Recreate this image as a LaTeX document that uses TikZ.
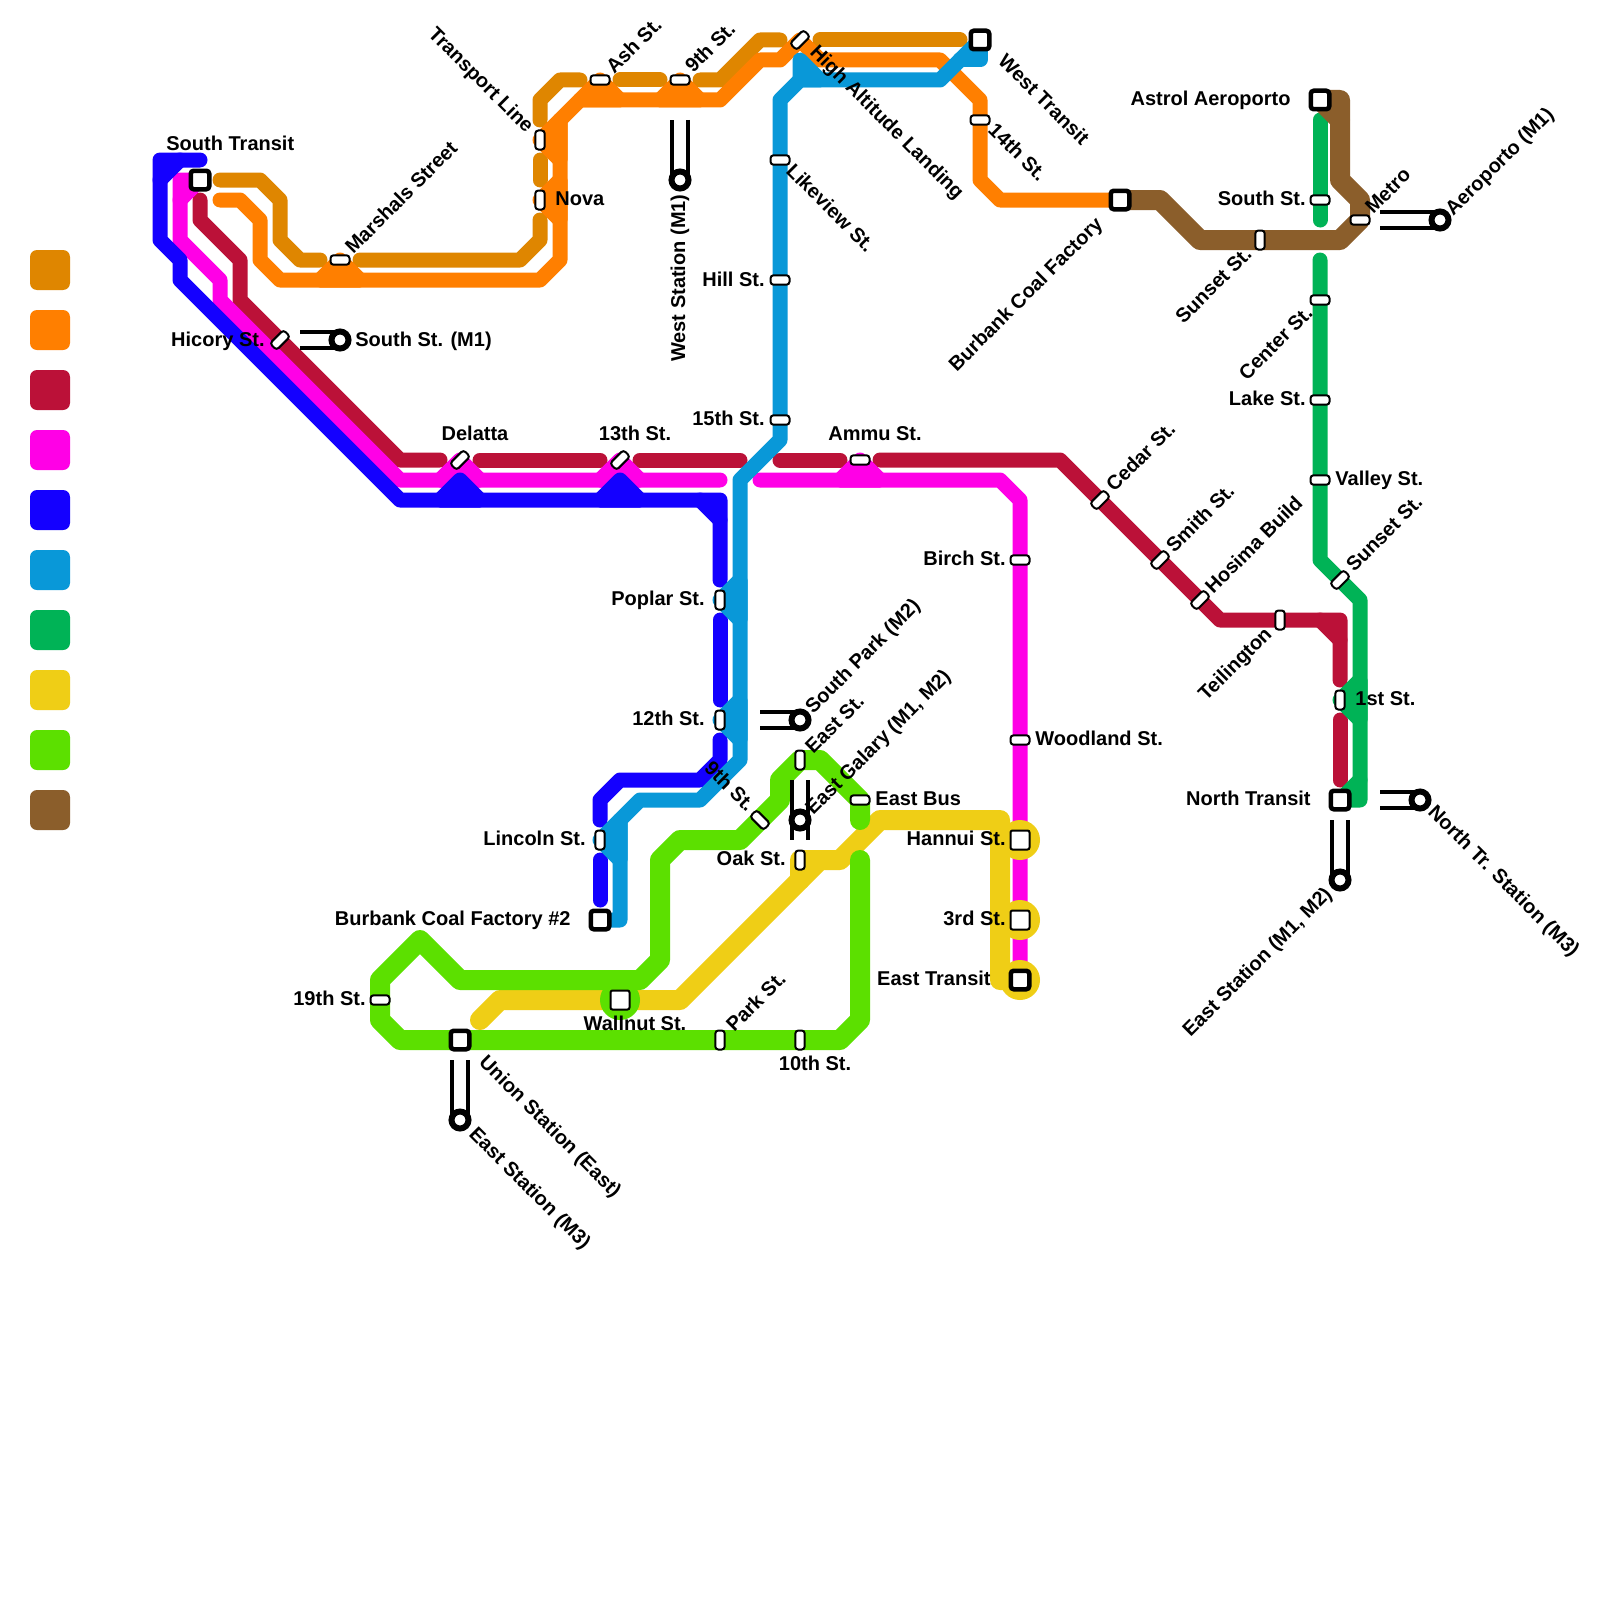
\documentclass[tikz,border=0pt]{standalone}
\usepackage{fontspec}
\setmainfont{Liberation Sans}
\usetikzlibrary{backgrounds}

\definecolor{ochre}{HTML}{DF8600}
\definecolor{tangerine}{HTML}{FF7F00}
\definecolor{crimson}{HTML}{BB1138}
\definecolor{fuchsia}{HTML}{FF00E6}
\definecolor{royal}{HTML}{1400FF}
\definecolor{azure}{HTML}{0998D8}
\definecolor{emerald}{HTML}{00B356}
\definecolor{mustard}{HTML}{EFCE16}
\definecolor{lime}{HTML}{5CE000}
\definecolor{umber}{HTML}{8B5E2B}

\begin{document}
\begin{tikzpicture}[x=0.5pt, y=-0.5pt,
    route/.style={line width=7.5pt, line cap=round, line join=round},
    wideroute/.style={line width=10pt, line cap=round, line join=round},
    bump/.style={route, draw=#1, fill=#1},
    xfer/.style={draw=black, double=white, line width=2pt, double distance=6pt},
    pill/.style={draw=black, fill=white, line width=1pt, rounded corners=1.5pt,
      inner sep=0pt, minimum width=9.5pt, minimum height=4.7pt},
    pillv/.style={pill, rotate=90},
    pillup/.style={pill, rotate=45},
    pilldown/.style={pill, rotate=-45},
    stopbox/.style={draw=black, fill=white, line width=1pt, rounded corners=1pt,
      inner sep=0pt, minimum size=9.5pt},
    termbox/.style={draw=black, fill=white, line width=2.25pt, rounded corners=1.5pt,
      inner sep=0pt, minimum size=9.25pt},
    metro/.style={circle, draw=black, fill=white, line width=3pt, inner sep=0pt, minimum size=8.5pt},
    lb/.style={inner sep=0pt, text height=7.2pt, text depth=0pt,
      font=\fontsize{10}{12}\selectfont\bfseries},
    lbup/.style={lb, rotate=45},
    lbdown/.style={lb, rotate=-45},
    legendbox/.style={rounded corners=3.5pt, inner sep=0pt, minimum size=20pt}]
  \useasboundingbox (0,0) rectangle (1600,1600);

  % Legend
  \node[legendbox, fill=ochre] (lgOchre) at (50,270) {};
  \node[legendbox, fill=tangerine] (lgOrange) at (50,330) {};
  \node[legendbox, fill=crimson] (lgCrimson) at (50,390) {};
  \node[legendbox, fill=fuchsia] (lgFuchsia) at (50,450) {};
  \node[legendbox, fill=royal] (lgRoyal) at (50,510) {};
  \node[legendbox, fill=azure] (lgAzure) at (50,570) {};
  \node[legendbox, fill=emerald] (lgEmerald) at (50,630) {};
  \node[legendbox, fill=mustard] (lgMustard) at (50,690) {};
  \node[legendbox, fill=lime] (lgLime) at (50,750) {};
  \node[legendbox, fill=umber] (lgUmber) at (50,810) {};

  % Terminals
  \node[termbox] (stSouthTransit) at (200,180) {};
  \node[termbox] (stWestTransit) at (980,40) {};
  \node[termbox] (stBurbank) at (1120,200) {};
  \node[termbox] (stAstrol) at (1320,100) {};
  \node[termbox] (stNorthTransit) at (1340,800) {};
  \node[termbox] (stBurbankTwo) at (600,920) {};
  \node[termbox] (stUnion) at (460,1040) {};
  \node[termbox] (stEastTransit) at (1020,980) {};
  \node[stopbox] (stHannui) at (1020,840) {};
  \node[stopbox] (stThird) at (1020,920) {};
  \node[stopbox] (stWallnut) at (620,1000) {};

  % Small stops
  \node[pill] (stMarshals) at (340,260) {};
  \node[pillv] (stTransport) at (540,140) {};
  \node[pillv] (stNova) at (540,200) {};
  \node[pill] (stAsh) at (600,80) {};
  \node[pill] (stNinthTop) at (680,80) {};
  \node[pillup] (stHigh) at (800,40) {};
  \node[pill] (stFourteenth) at (980,120) {};
  \node[pill] (stLikeview) at (780,160) {};
  \node[pill] (stHill) at (780,280) {};
  \node[pill] (stFifteenth) at (780,420) {};
  \node[pillup] (stHicory) at (280,340) {};
  \node[pillup] (stDelatta) at (460,460) {};
  \node[pillup] (stThirteenth) at (620,460) {};
  \node[pill] (stAmmu) at (860,460) {};
  \node[pillup] (stCedar) at (1100,500) {};
  \node[pillup] (stSmith) at (1160,560) {};
  \node[pillup] (stHosima) at (1200,600) {};
  \node[pillv] (stTeilington) at (1280,620) {};
  \node[pillv] (stFirst) at (1340,700) {};
  \node[pillv] (stPoplar) at (720,600) {};
  \node[pillv] (stTwelfth) at (720,720) {};
  \node[pillv] (stLincoln) at (600,840) {};
  \node[pillv] (stEastSt) at (800,760) {};
  \node[pillv] (stOak) at (800,860) {};
  \node[pill] (stEastBus) at (860,800) {};
  \node[pilldown] (stNinth) at (760,820) {};
  \node[pill] (stNineteenth) at (380,1000) {};
  \node[pillv] (stPark) at (720,1040) {};
  \node[pillv] (stTenth) at (800,1040) {};
  \node[pill] (stBirch) at (1020,560) {};
  \node[pill] (stWoodland) at (1020,740) {};
  \node[pill] (stSouthSt) at (1320,200) {};
  \node[pill] (stCenter) at (1320,300) {};
  \node[pill] (stLake) at (1320,400) {};
  \node[pill] (stValley) at (1320,480) {};
  \node[pillv] (stSunset) at (1260,240) {};
  \node[pill] (stMetro) at (1360,220) {};
  \node[pillup] (stSunsetTwo) at (1340,580) {};

  % Metro interchanges
  \node[metro] (mtSouthSt) at (340,340) {};
  \node[metro] (mtWest) at (680,180) {};
  \node[metro] (mtSouthPark) at (800,720) {};
  \node[metro] (mtGalary) at (800,820) {};
  \node[metro] (mtEastM3) at (460,1120) {};
  \node[metro] (mtEastM12) at (1340,880) {};
  \node[metro] (mtNorthTr) at (1420,800) {};
  \node[metro] (mtAeroporto) at (1440,220) {};

  \begin{pgfonlayer}{background}
    \fill[white] (0,0) rectangle (1600,1600);

    % Ochre
    \draw[route, ochre] (220,180) -- (260,180) -- (280,200) -- (280,240) -- (300,260) -- (320,260);
    \draw[route, ochre] (360,260) -- (520,260) -- (540,240) -- (540,220);
    \draw[route, ochre] (540,160) -- (540,180);
    \draw[route, ochre] (540,120) -- (540,100) -- (560,80) -- (580,80);
    \draw[route, ochre] (620,80) -- (660,80);
    \draw[route, ochre] (700,80) -- (720,80) -- (760,40) -- (780,40);
    \draw[route, ochre] (820,40) -- (960,40);

    % Orange
    \draw[route, tangerine] (220,200) -- (240,200) -- (260,220) -- (260,260) -- (280,280)
      -- (540,280) -- (560,260) -- (560,120) -- (580,100) -- (720,100) -- (760,60) -- (780,60)
      -- (stHigh.center) -- (820,60) -- (940,60) -- (980,100) -- (980,180) -- (1000,200)
      -- (stBurbank.center);
    \filldraw[bump=tangerine] (320,280) -- (stMarshals.center) -- (360,280) -- cycle;
    \filldraw[bump=tangerine] (560,220) -- (stNova.center) -- (560,180) -- cycle;
    \filldraw[bump=tangerine] (560,160) -- (stTransport.center) -- (560,120) -- cycle;
    \filldraw[bump=tangerine] (580,100) -- (stAsh.center) -- (620,100) -- cycle;
    \filldraw[bump=tangerine] (660,100) -- (stNinthTop.center) -- (700,100) -- cycle;

    % Crimson
    \draw[route, crimson] (200,200) -- (200,220) -- (240,260) -- (240,300) -- (400,460) -- (440,460);
    \draw[route, crimson] (480,460) -- (600,460);
    \draw[route, crimson] (640,460) -- (740,460);
    \draw[route, crimson] (780,460) -- (840,460);
    \draw[route, crimson] (880,460) -- (1060,460) -- (1220,620) -- (1340,620) -- (1340,680);
    \draw[route, crimson] (1320,620) -- (1340,640);
    \draw[route, crimson] (1340,720) -- (1340,780);

    % Fuchsia
    \draw[route, fuchsia] (stSouthTransit.center) -- (180,180) -- (180,240) -- (220,280) -- (220,300)
      -- (400,480) -- (720,480);
    \draw[route, fuchsia] (stSouthTransit.center) -- (180,200);
    \filldraw[bump=fuchsia] (440,480) -- (stDelatta.center) -- (480,480) -- cycle;
    \filldraw[bump=fuchsia] (600,480) -- (stThirteenth.center) -- (640,480) -- cycle;
    \draw[route, fuchsia] (760,480) -- (1000,480) -- (1020,500) -- (stEastTransit.center);
    \filldraw[bump=fuchsia] (840,480) -- (stAmmu.center) -- (880,480) -- cycle;

    % Royal
    \draw[route, royal] (200,160) -- (160,160) -- (160,240) -- (180,260) -- (180,280) -- (400,500)
      -- (720,500) -- (720,580);
    \draw[route, royal] (180,160) -- (160,180);
    \draw[route, royal] (700,500) -- (720,520);
    \filldraw[bump=royal] (440,500) -- (460,480) -- (480,500) -- cycle;
    \filldraw[bump=royal] (600,500) -- (620,480) -- (640,500) -- cycle;
    \draw[route, royal] (720,620) -- (720,700);
    \draw[route, royal] (720,740) -- (720,760) -- (700,780) -- (620,780) -- (600,800) -- (600,820);
    \draw[route, royal] (600,860) -- (600,900);

    % Azure
    \draw[route, azure] (stWestTransit.center) -- (940,80) -- (800,80) -- (780,100) -- (780,440)
      -- (740,480) -- (740,760) -- (700,800) -- (640,800) -- (620,820) -- (620,920)
      -- (stBurbankTwo.center);
    \draw[route, azure] (stWestTransit.center) -- (980,60) -- (960,60);
    \filldraw[bump=azure] (800,80) -- (800,60) -- (820,80) -- cycle;
    \filldraw[bump=azure] (740,580) -- (stPoplar.center) -- (740,620) -- cycle;
    \filldraw[bump=azure] (740,700) -- (stTwelfth.center) -- (740,740) -- cycle;
    \filldraw[bump=azure] (620,820) -- (stLincoln.center) -- (620,860) -- cycle;

    % Emerald
    \draw[route, emerald] (1320,120) -- (1320,220);
    \draw[route, emerald] (1320,260) -- (1320,560) -- (1360,600) -- (1360,800) -- (stNorthTransit.center);
    \filldraw[bump=emerald] (1360,680) -- (stFirst.center) -- (1360,720) -- cycle;
    \draw[route, emerald] (1360,780) -- (stNorthTransit.center);

    % Mustard
    \draw[wideroute, mustard] (480,1020) -- (500,1000) -- (680,1000) -- (820,860) -- (840,860)
      -- (880,820) -- (1000,820) -- (1000,980) -- (stEastTransit.center);
    \draw[wideroute, mustard] (800,880) -- (stOak.center) -- (820,860);
    \fill[mustard] (stHannui.center) circle (10pt);
    \fill[mustard] (stThird.center) circle (10pt);
    \fill[mustard] (stEastTransit.center) circle (10pt);

    % Lime
    \draw[wideroute, lime] (stNineteenth.center) -- (380,980) -- (420,940) -- (460,980) -- (640,980)
      -- (660,960) -- (660,860) -- (680,840) -- (740,840) -- (780,800) -- (780,780) -- (800,760)
      -- (820,760) -- (860,800) -- (860,820);
    \draw[wideroute, lime] (860,860) -- (860,1020) -- (840,1040) -- (400,1040) -- (380,1020)
      -- (stNineteenth.center);
    \fill[lime] (stWallnut.center) circle (10pt);

    % Umber
    \draw[wideroute, umber] (stBurbank.center) -- (1160,200) -- (1200,240) -- (1340,240)
      -- (stMetro.center) -- (1360,200) -- (1340,180) -- (1340,100) -- (stAstrol.center);
    \draw[wideroute, umber] (stAstrol.center) -- (1340,120);

    % Transfers
    \coordinate (xfHicory) at (300,340);
    \coordinate (xfNinth) at (680,120);
    \coordinate (xfTwelfth) at (760,720);
    \coordinate (xfEastSt) at (800,780);
    \coordinate (xfOak) at (800,840);
    \coordinate (xfUnion) at (460,1060);
    \coordinate (xfNorthDown) at (1340,820);
    \coordinate (xfNorthRight) at (1380,800);
    \coordinate (xfMetro) at (1380,220);
    \draw[xfer] (xfHicory) -- (mtSouthSt.center);
    \draw[xfer] (xfNinth) -- (mtWest.center);
    \draw[xfer] (xfTwelfth) -- (mtSouthPark.center);
    \draw[xfer] (xfEastSt) -- (xfOak);
    \draw[xfer] (xfUnion) -- (mtEastM3.center);
    \draw[xfer] (xfNorthDown) -- (mtEastM12.center);
    \draw[xfer] (xfNorthRight) -- (mtNorthTr.center);
    \draw[xfer] (xfMetro) -- (mtAeroporto.center);
  \end{pgfonlayer}

  % Flat labels
  \node[lb, anchor=west] (lbSouthTransit) at (166,143) {South Transit};
  \node[lb, anchor=east] (lbHicory) at (265,339) {Hicory St.};
  \node[lb, anchor=west] (lbSouthM) at (355,339) {South St. (M1)};
  \node[lb, anchor=west] (lbNova) at (555,198) {Nova};
  \node[lb, anchor=east] (lbHill) at (765,279) {Hill St.};
  \node[lb, anchor=east] (lbFifteenth) at (765,418) {15th St.};
  \node[lb] (lbDelatta) at (475,433) {Delatta};
  \node[lb] (lbThirteenth) at (635,433) {13th St.};
  \node[lb] (lbAmmu) at (875,433) {Ammu St.};
  \node[lb, anchor=east] (lbAstrol) at (1291,98) {Astrol Aeroporto};
  \node[lb, anchor=east] (lbSouthSt) at (1306,198) {South St.};
  \node[lb, anchor=east] (lbLake) at (1306,398) {Lake St.};
  \node[lb, anchor=west] (lbValley) at (1335,478) {Valley St.};
  \node[lb, anchor=east] (lbBirch) at (1006,558) {Birch St.};
  \node[lb, anchor=west] (lbWoodland) at (1035,738) {Woodland St.};
  \node[lb, anchor=east] (lbPoplar) at (705,598) {Poplar St.};
  \node[lb, anchor=east] (lbTwelfth) at (705,718) {12th St.};
  \node[lb, anchor=east] (lbLincoln) at (586,838) {Lincoln St.};
  \node[lb, anchor=east] (lbBurbankTwo) at (571,918) {Burbank Coal Factory \#2};
  \node[lb, anchor=east] (lbNineteenth) at (366,998) {19th St.};
  \node[lb] (lbWallnut) at (635,1023) {Wallnut St.};
  \node[lb] (lbTenth) at (815,1063) {10th St.};
  \node[lb, anchor=east] (lbOak) at (786,858) {Oak St.};
  \node[lb, anchor=west] (lbEastBus) at (875,798) {East Bus};
  \node[lb, anchor=east] (lbHannui) at (1006,838) {Hannui St.};
  \node[lb, anchor=east] (lbThird) at (1006,918) {3rd St.};
  \node[lb, anchor=east] (lbEastTransit) at (991,978) {East Transit};
  \node[lb, anchor=east] (lbNorthTransit) at (1311,798) {North Transit};
  \node[lb, anchor=west] (lbFirst) at (1355,698) {1st St.};

  % Labels going down to the right
  \node[lbdown, anchor=east] (lbTransport) at (531,129) {Transport Line};
  \node[lbdown, anchor=west] (lbHigh) at (814,48) {High Altitude Landing};
  \node[lbdown, anchor=west] (lbWestTransit) at (1002,57) {West Transit};
  \node[lbdown, anchor=west] (lbFourteenth) at (992,126) {14th St.};
  \node[lbdown, anchor=west] (lbLikeview) at (790,167) {Likeview St.};
  \node[lbdown, anchor=east] (lbNinth) at (752,808) {9th St.};
  \node[lbdown, anchor=west] (lbUnion) at (483,1058) {Union Station (East)};
  \node[lbdown, anchor=west] (lbEastMThree) at (473,1130) {East Station (M3)};
  \node[lbdown, anchor=west] (lbNorthTr) at (1432,808) {North Tr. Station (M3)};

  % Labels going up to the right
  \node[lbup, anchor=west] (lbMarshals) at (348,250) {Marshals Street};
  \node[lbup, anchor=west] (lbAsh) at (609,70) {Ash St.};
  \node[lbup, anchor=west] (lbNinthTop) at (688,69) {9th St.};
  \node[lbup, anchor=west] (lbEastSt) at (808,750) {East St.};
  \node[lbup, anchor=west] (lbSouthPark) at (808,710) {South Park (M2)};
  \node[lbup, anchor=west] (lbGalary) at (808,811) {East Galary (M1, M2)};
  \node[lbup, anchor=west] (lbPark) at (729,1028) {Park St.};
  \node[lbup, anchor=west] (lbCedar) at (1109,488) {Cedar St.};
  \node[lbup, anchor=west] (lbSmith) at (1169,549) {Smith St.};
  \node[lbup, anchor=west] (lbHosima) at (1208,590) {Hosima Build};
  \node[lbup, anchor=west] (lbSunsetTwo) at (1349,568) {Sunset St.};
  \node[lbup, anchor=west] (lbMetro) at (1368,210) {Metro};
  \node[lbup, anchor=west] (lbAeroporto) at (1448,212) {Aeroporto (M1)};
  \node[lbup, anchor=east] (lbBurbank) at (1099,220) {Burbank Coal Factory};
  \node[lbup, anchor=east] (lbSunset) at (1248,250) {Sunset St.};
  \node[lbup, anchor=east] (lbCenter) at (1309,309) {Center St.};
  \node[lbup, anchor=east] (lbTeilington) at (1268,630) {Teilington};
  \node[lbup, anchor=east] (lbEastMOne) at (1328,890) {East Station (M1, M2)};
  \node[lb, rotate=90, anchor=east] (lbWest) at (678,194) {West Station (M1)};
\end{tikzpicture}
\end{document}
